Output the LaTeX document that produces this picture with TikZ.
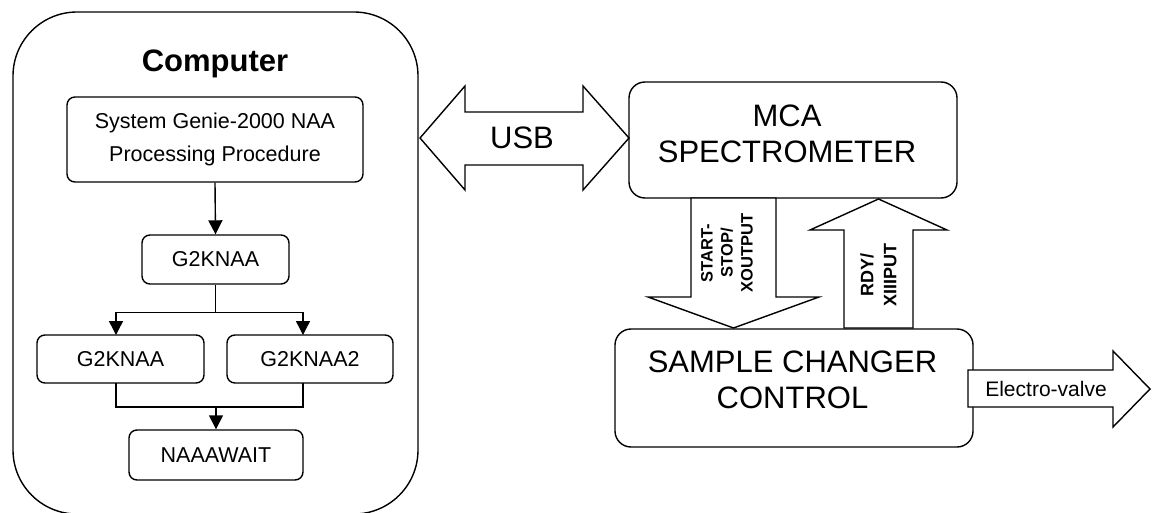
\documentclass[tikz,border=0pt]{standalone}
\usepackage{fontspec}
\setmainfont{Liberation Sans}
\usetikzlibrary{arrows.meta}
\begin{document}
\begin{tikzpicture}[x=1pt,y=-1pt,
  line width=1.4pt,
  fbox/.style={draw, rounded corners=8pt, inner sep=0pt, font=\fontsize{21.5}{33}\selectfont, align=center},
  bbox/.style={draw, rounded corners=16pt, inner sep=0pt},
  btxt/.style={font=\fontsize{31}{36}\selectfont, align=center, inner sep=0pt},
  arr/.style={-{Triangle[width=14pt,length=14pt]}},
  blk/.style={draw, line join=miter, fill=white},
  rtxt/.style={font=\bfseries\fontsize{16.5}{20}\selectfont, align=center, rotate=90, inner sep=0pt},
]
\useasboundingbox (0,0) rectangle (1153,513);

% Computer container
\node[draw, rounded corners=64pt, minimum width=405pt, minimum height=502pt, inner sep=0pt] (comp) at (215.5,263) {};
\node[font=\bfseries\fontsize{31}{36}\selectfont, anchor=base] (compt) at (215,72) {Computer};

% flowchart
\node[fbox, minimum width=296pt, minimum height=85pt] (sys) at (215,139.5) {System Genie-2000 NAA\\Processing Procedure};
\node[fbox, minimum width=147pt, minimum height=49pt] (g1) at (215.5,259.5) {G2KNAA};
\node[fbox, minimum width=167pt, minimum height=48pt] (ga) at (120.5,359) {G2KNAA};
\node[fbox, minimum width=166pt, minimum height=48pt] (gb) at (310,359) {G2KNAA2};
\node[fbox, minimum width=174pt, minimum height=50pt] (nw) at (216,455) {NAAAWAIT};

\draw[arr] (sys.south) -- (g1.north);
\coordinate (ja) at (116,335);
\coordinate (jb) at (303,335);
\draw[arr] (g1.south) -- ++(0,28) -| (ja);
\draw[arr] (g1.south) -- ++(0,28) -| (jb);
\coordinate (ka) at (116,383);
\coordinate (kb) at (303,383);
\draw (ka) -- ++(0,24) -| (kb);
\coordinate (m) at (216,407);
\draw[arr] (m) -- (nw.north);

% right side boxes
\node[bbox, minimum width=328pt, minimum height=116pt] (mca) at (793,140) {};
\node[btxt] (mcat) at (787,133.5) {MCA\\SPECTROMETER};
\node[bbox, minimum width=358pt, minimum height=118pt] (scc) at (794,388) {};
\node[btxt] (scct) at (792.5,380) {SAMPLE CHANGER\\CONTROL};

% USB double arrow
\draw[blk] (420,138) -- (465,86) -- (465,112) -- (583,112) -- (583,86) -- (629,138)
  -- (583,190) -- (583,165) -- (465,165) -- (465,190) -- cycle;
\node[btxt] (usb) at (522,138) {USB};

% START-STOP down arrow
\draw[blk] (691,198) -- (776,198) -- (776,297) -- (819,297) -- (733.5,328) -- (648,297) -- (691,297) -- cycle;
\node[rtxt] (sst) at (727,253) {START-\\STOP/\\XOUTPUT};

% RDY up arrow
\draw[blk] (844,328) -- (913,328) -- (913,230) -- (947,230) -- (878.5,199) -- (810,230) -- (844,230) -- cycle;
\node[rtxt, font=\bfseries\fontsize{18}{23}\selectfont] (rdy) at (878.5,275) {RDY/\\XIIIPUT};

% Electro-valve arrow
\draw[blk] (968,370) -- (1113,370) -- (1113,351) -- (1150,389) -- (1113,427) -- (1113,407) -- (968,407) -- cycle;
\node[font=\fontsize{21}{25}\selectfont, inner sep=0pt] (ev) at (1046,389) {Electro-valve};
\end{tikzpicture}
\end{document}
